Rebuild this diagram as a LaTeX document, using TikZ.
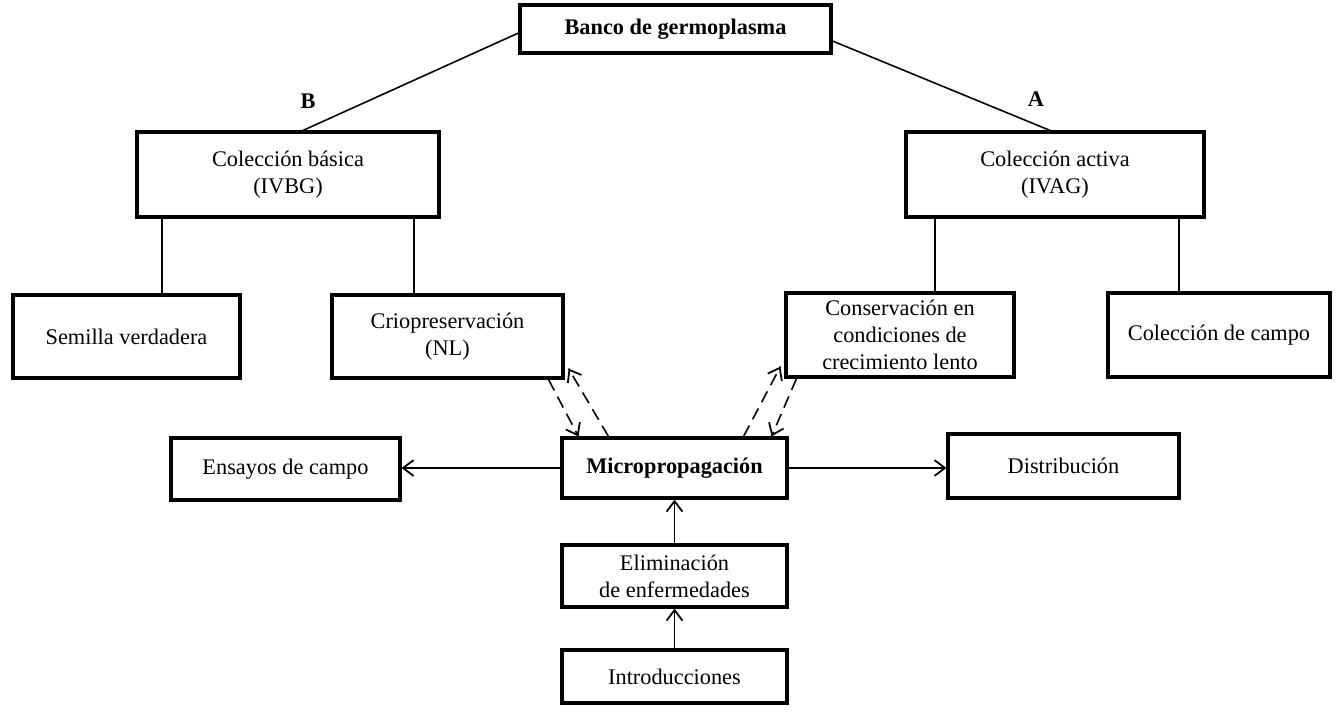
\documentclass[tikz,border=0pt]{standalone}
\usepackage{fontspec}
\setmainfont{Liberation Serif}
\usetikzlibrary{arrows.meta, calc, decorations.markings}

\begin{document}
\begin{tikzpicture}[
    x=0.02cm, y=-0.02cm,
    every node/.style={font=\fontsize{12.7}{15.5}\selectfont},
    box/.style={draw, line width=1.8pt, rectangle, align=center, inner sep=2pt},
    link/.style={line width=0.9pt},
    arrow/.style={->, line width=0.9pt, >={Straight Barb[length=6pt,width=9pt,line width=1pt]}},
    dasharrow/.style={line width=0.9pt, dash pattern=on 7pt off 4pt,
        postaction={decorate},
        decoration={markings, mark=at position 1 with {\arrow[solid]{Straight Barb[length=6pt,width=9pt,line width=1pt]}}}}
]
    \useasboundingbox (0,0) rectangle (1336,714);

    % Top
    \node[box, minimum width=6.22cm, minimum height=0.96cm, font=\fontsize{12.7}{15.5}\selectfont\bfseries] (banco) at (675.5,29) {Banco de germoplasma};

    % Collections
    \node[box, minimum width=6.04cm, minimum height=1.7cm] (basica) at (288,174.5) {Colección básica\\(IVBG)};
    \node[box, minimum width=5.96cm, minimum height=1.7cm] (activa) at (1055,174.5) {Colección activa\\(IVAG)};

    % Labels
    \node[font=\fontsize{12.7}{15.5}\selectfont\bfseries] (labB) at (308,101) {B};
    \node[font=\fontsize{12.7}{15.5}\selectfont\bfseries] (labA) at (1036,99) {A};

    % Storage
    \node[box, minimum width=4.54cm, minimum height=1.66cm] (semilla) at (126.5,336.5) {Semilla verdadera};
    \node[box, minimum width=4.62cm, minimum height=1.66cm] (crio) at (447.5,336.5) {Criopreservación\\(NL)};
    \node[box, minimum width=4.56cm, minimum height=1.68cm] (conserv) at (900,335) {Conservación en\\condiciones de\\crecimiento lento};
    \node[box, minimum width=4.44cm, minimum height=1.68cm] (campo) at (1219,335) {Colección de campo};

    % Middle row
    \node[box, minimum width=4.58cm, minimum height=1.24cm] (ensayos) at (285.5,469) {Ensayos de campo};
    \node[box, minimum width=4.5cm, minimum height=1.2cm, font=\fontsize{12.7}{15.5}\selectfont\bfseries] (micro) at (674.5,468) {Micropropagación};
    \node[box, minimum width=4.62cm, minimum height=1.28cm] (distrib) at (1063.5,466) {Distribución};

    % Bottom
    \node[box, minimum width=4.5cm, minimum height=1.24cm] (elim) at (674.5,576) {Eliminación\\de enfermedades};
    \node[box, minimum width=4.5cm, minimum height=1.06cm] (intro) at (674.5,676.5) {Introducciones};

    % Tree lines
    \draw[link] ($(banco.west)+(0,4)$) -- ($(basica.north)+(15,0)$);
    \draw[link] ($(banco.east)+(0,12)$) -- ($(activa.north)+(-5,0)$);
    \draw[link] (basica.south -| 162,0) -- (semilla.north -| 162,0);
    \draw[link] (basica.south -| 414,0) -- (crio.north -| 414,0);
    \draw[link] (activa.south -| 935,0) -- (conserv.north -| 935,0);
    \draw[link] (activa.south -| 1179,0) -- (campo.north -| 1179,0);

    % Dashed exchange
    \draw[dasharrow] ($(crio.south east)+(-16,0)$) -- ($(micro.north west)+(18,0)$);
    \draw[dasharrow] ($(micro.north west)+(48,0)$) -- ($(crio.south east)+(4,-11)$);
    \draw[dasharrow] ($(micro.north east)+(-45,0)$) -- ($(conserv.south west)+(-4,-12)$);
    \draw[dasharrow] ($(conserv.south west)+(12,0)$) -- ($(micro.north east)+(-17,0)$);

    % Arrows
    \draw[arrow] (micro.west) -- (micro.west -| ensayos.east);
    \draw[arrow] (micro.east) -- (micro.east -| distrib.west);
    \draw[arrow] (elim.north) -- (micro.south);
    \draw[arrow] (intro.north) -- (elim.south);
\end{tikzpicture}
\end{document}
